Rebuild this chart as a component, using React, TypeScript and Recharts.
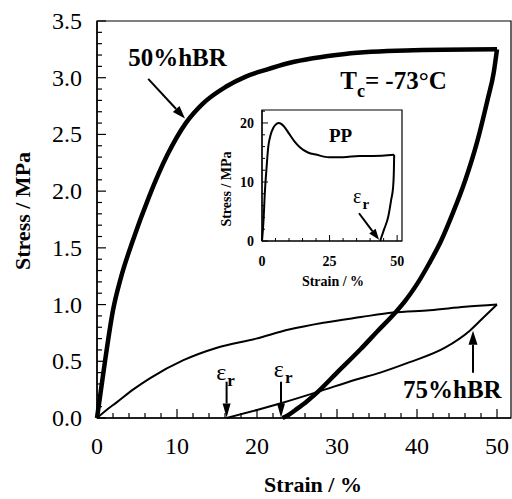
import React from "react";
import {
  Label,
  Line,
  LineChart,
  ReferenceArea,
  ReferenceDot,
  ReferenceLine,
  XAxis,
  YAxis,
} from "recharts";

const SERIF = '"Liberation Serif", "Times New Roman", Times, serif';

type Pt = { x: number; y: number };

// main chart: 50% hBR (thick) and 75% hBR (thin) loops, strain % vs stress MPa
const HBR50_LOAD: Pt[] = [
  { x: 0, y: 0 },
  { x: 0.5, y: 0.25 },
  { x: 1.0, y: 0.5 },
  { x: 2.0, y: 0.95 },
  { x: 3.0, y: 1.24 },
  { x: 4.46, y: 1.56 },
  { x: 6.5, y: 1.95 },
  { x: 8.8, y: 2.32 },
  { x: 11.1, y: 2.6 },
  { x: 13.2, y: 2.77 },
  { x: 16.1, y: 2.92 },
  { x: 18.6, y: 3.01 },
  { x: 21.1, y: 3.07 },
  { x: 24, y: 3.13 },
  { x: 31, y: 3.21 },
  { x: 38.6, y: 3.24 },
  { x: 50, y: 3.25 },
];

const HBR50_UNLOAD: Pt[] = [
  { x: 23.2, y: 0 },
  { x: 24, y: 0.03 },
  { x: 25, y: 0.08 },
  { x: 26.3, y: 0.15 },
  { x: 27.6, y: 0.23 },
  { x: 30, y: 0.4 },
  { x: 33, y: 0.61 },
  { x: 35, y: 0.76 },
  { x: 37.3, y: 0.93 },
  { x: 38.5, y: 1.03 },
  { x: 40, y: 1.18 },
  { x: 41.5, y: 1.36 },
  { x: 43, y: 1.56 },
  { x: 44.5, y: 1.81 },
  { x: 46, y: 2.09 },
  { x: 47.5, y: 2.43 },
  { x: 48.8, y: 2.8 },
  { x: 49.6, y: 3.05 },
  { x: 50, y: 3.25 },
];

const HBR75_LOAD: Pt[] = [
  { x: 0, y: 0 },
  { x: 1, y: 0.06 },
  { x: 2.5, y: 0.14 },
  { x: 4.5, y: 0.25 },
  { x: 6.6, y: 0.35 },
  { x: 10.8, y: 0.51 },
  { x: 15, y: 0.62 },
  { x: 19.9, y: 0.7 },
  { x: 24, y: 0.78 },
  { x: 28.3, y: 0.84 },
  { x: 33, y: 0.89 },
  { x: 37, y: 0.93 },
  { x: 41.6, y: 0.95 },
  { x: 46, y: 0.98 },
  { x: 50, y: 1.0 },
];

const HBR75_UNLOAD: Pt[] = [
  { x: 16.2, y: 0 },
  { x: 20, y: 0.07 },
  { x: 23, y: 0.13 },
  { x: 27.6, y: 0.23 },
  { x: 32.4, y: 0.34 },
  { x: 35.4, y: 0.4 },
  { x: 39, y: 0.49 },
  { x: 43.5, y: 0.62 },
  { x: 46.6, y: 0.77 },
  { x: 48.5, y: 0.9 },
  { x: 50, y: 1.0 },
];

// inset: PP
const PP_LOAD: Pt[] = [
  { x: 0, y: 0 },
  { x: 0.5, y: 3 },
  { x: 1.1, y: 8.6 },
  { x: 1.7, y: 12.5 },
  { x: 2.3, y: 15.9 },
  { x: 3.2, y: 18 },
  { x: 4.2, y: 19.2 },
  { x: 5.2, y: 19.8 },
  { x: 6.3, y: 20 },
  { x: 8, y: 19.5 },
  { x: 10, y: 18.2 },
  { x: 12, y: 16.9 },
  { x: 14, y: 15.9 },
  { x: 17, y: 15 },
  { x: 20.3, y: 14.6 },
  { x: 24.8, y: 14.2 },
  { x: 30, y: 14.2 },
  { x: 36, y: 14.4 },
  { x: 41, y: 14.4 },
  { x: 48.9, y: 14.6 },
];

const PP_UNLOAD: Pt[] = [
  { x: 43.7, y: 0 },
  { x: 45.2, y: 2 },
  { x: 46.7, y: 4.1 },
  { x: 47.8, y: 7 },
  { x: 48.5, y: 9.1 },
  { x: 48.8, y: 12 },
  { x: 48.9, y: 14.6 },
];

const X_TICKS = [
  0, 2, 4, 6, 8, 10, 12, 14, 16, 18, 20, 22, 24, 26, 28, 30, 32, 34, 36, 38,
  40, 42, 44, 46, 48, 50,
];
const Y_TICKS = [
  0, 0.1, 0.2, 0.3, 0.4, 0.5, 0.6, 0.7, 0.8, 0.9, 1.0, 1.1, 1.2, 1.3, 1.4,
  1.5, 1.6, 1.7, 1.8, 1.9, 2.0, 2.1, 2.2, 2.3, 2.4, 2.5, 2.6, 2.7, 2.8, 2.9,
  3.0, 3.1, 3.2, 3.3, 3.4, 3.5,
];
const INSET_X_TICKS = [0, 5, 10, 15, 20, 25, 30, 35, 40, 45, 50];
const INSET_Y_TICKS = [0, 2, 4, 6, 8, 10, 12, 14, 16, 18, 20, 22];

const X_MAX = 51.75;
const Y_MAX = 3.5;
const INSET_X_MAX = 51.8;
const INSET_Y_MAX = 22.2;

function isHalf(v: number) {
  return Math.abs(v * 2 - Math.round(v * 2)) < 1e-6;
}

function MainXTick(props: any) {
  const { x, y, payload } = props;
  const v = payload.value;
  const major = v % 10 === 0;
  return (
    <g>
      <line x1={x} y1={y} x2={x} y2={y - (major ? 9 : 5)} stroke="#000" strokeWidth={1.2} />
      {major && (
        <text x={x} y={y + 36} textAnchor="middle" fontSize={24} fontFamily={SERIF} fill="#000">
          {v}
        </text>
      )}
    </g>
  );
}

function MainYTick(props: any) {
  const { x, y, payload } = props;
  const v = payload.value;
  const major = isHalf(v);
  return (
    <g>
      <line x1={x} y1={y} x2={x + (major ? 9 : 5)} y2={y} stroke="#000" strokeWidth={1.2} />
      {major && (
        <text x={x - 15} y={y + 8} textAnchor="end" fontSize={24} fontFamily={SERIF} fill="#000">
          {v.toFixed(1)}
        </text>
      )}
    </g>
  );
}

function InsetXTick(props: any) {
  const { x, y, payload } = props;
  const v = payload.value;
  const major = v % 25 === 0;
  return (
    <g>
      <line x1={x} y1={y} x2={x} y2={y - (major ? 6 : 3)} stroke="#000" strokeWidth={1} />
      {major && (
        <text x={x} y={y + 25} textAnchor="middle" fontSize={14} fontWeight="bold" fontFamily={SERIF} fill="#000">
          {v}
        </text>
      )}
    </g>
  );
}

function InsetYTick(props: any) {
  const { x, y, payload } = props;
  const v = payload.value;
  const major = v % 10 === 0;
  return (
    <g>
      <line x1={x} y1={y} x2={x + (major ? 6 : 3)} y2={y} stroke="#000" strokeWidth={1} />
      {major && (
        <text x={x - 8} y={y + 5} textAnchor="end" fontSize={14} fontWeight="bold" fontFamily={SERIF} fill="#000">
          {v}
        </text>
      )}
    </g>
  );
}

function arrow(head: number, width: number, stroke: number) {
  return (p: any) => {
    const { x1, y1, x2, y2 } = p;
    const a = Math.atan2(y2 - y1, x2 - x1);
    const bx = x2 - head * Math.cos(a);
    const by = y2 - head * Math.sin(a);
    const nx = (-Math.sin(a) * width) / 2;
    const ny = (Math.cos(a) * width) / 2;
    return (
      <g>
        <line x1={x1} y1={y1} x2={bx} y2={by} stroke="#000" strokeWidth={stroke} />
        <polygon points={`${x2},${y2} ${bx + nx},${by + ny} ${bx - nx},${by - ny}`} fill="#000" />
      </g>
    );
  };
}

function textAt(content: React.ReactNode, size: number, weight = "bold") {
  return (p: any) => (
    <text x={p.cx} y={p.cy} fontSize={size} fontWeight={weight} fontFamily={SERIF} fill="#000">
      {content}
    </text>
  );
}

const epsR = (sub: number) => (
  <>
    <tspan fontWeight="normal">ε</tspan>
    <tspan fontSize={sub} dy={6} dx={1}>
      r
    </tspan>
  </>
);

function InsetChart() {
  return (
    <LineChart width={205} height={190} margin={{ top: 5, right: 8, left: 0, bottom: 0 }}>
      <XAxis
        type="number"
        dataKey="x"
        domain={[0, INSET_X_MAX]}
        ticks={INSET_X_TICKS}
        interval={0}
        tickLine={false}
        tickSize={0}
        tickMargin={0}
        height={54}
        axisLine={{ stroke: "#000", strokeWidth: 1.2 }}
        tick={(p: any) => <InsetXTick {...p} />}
      >
        <Label
          content={(p: any) => (
            <text
              x={p.viewBox.x + 71}
              y={p.viewBox.y + 45}
              textAnchor="middle"
              fontSize={14}
              fontWeight="bold"
              fontFamily={SERIF}
              fill="#000"
            >
              Strain / %
            </text>
          )}
        />
      </XAxis>
      <YAxis
        type="number"
        domain={[0, INSET_Y_MAX]}
        ticks={INSET_Y_TICKS}
        interval={0}
        tickLine={false}
        tickSize={0}
        tickMargin={0}
        width={57}
        axisLine={{ stroke: "#000", strokeWidth: 1.2 }}
        tick={(p: any) => <InsetYTick {...p} />}
      >
        <Label
          content={(p: any) => (
            <text
              x={p.viewBox.x + 26}
              y={84}
              transform={`rotate(-90 ${p.viewBox.x + 26} 84)`}
              textAnchor="middle"
              fontSize={14}
              fontWeight="bold"
              fontFamily={SERIF}
              fill="#000"
            >
              {"Stress / MPa"}
            </text>
          )}
        />
      </YAxis>
      <ReferenceArea
        x1={0}
        x2={INSET_X_MAX}
        y1={0}
        y2={INSET_Y_MAX}
        fill="#fff"
        fillOpacity={1}
        stroke="#000"
        strokeWidth={1.2}
      />
      <Line data={PP_LOAD} dataKey="y" type="monotone" stroke="#000" strokeWidth={2} dot={false} isAnimationActive={false} />
      <Line data={PP_UNLOAD} dataKey="y" type="monotone" stroke="#000" strokeWidth={2} dot={false} isAnimationActive={false} />
      <ReferenceDot x={24.8} y={16.8} r={0} shape={textAt("PP", 19)} />
      <ReferenceDot x={33.7} y={6.4} r={0} shape={textAt(epsR(15), 20)} />
      <ReferenceLine
        segment={[
          { x: 35.9, y: 4.7 },
          { x: 43.3, y: 0.2 },
        ]}
        shape={arrow(11, 8, 2)}
      />
    </LineChart>
  );
}

export default function App() {
  return (
    <div style={{ position: "absolute", left: 0, top: 0, width: 512, height: 499, background: "#fff" }}>
      <LineChart width={512} height={499} margin={{ top: 21, right: 1, left: 0, bottom: 0 }}>
        <XAxis
          type="number"
          dataKey="x"
          domain={[0, X_MAX]}
          ticks={X_TICKS}
          interval={0}
          tickLine={false}
          tickSize={0}
          tickMargin={0}
          height={81}
          axisLine={{ stroke: "#000", strokeWidth: 1.5 }}
          tick={(p: any) => <MainXTick {...p} />}
        >
          <Label
            content={(p: any) => (
              <text
                x={313}
                y={p.viewBox.y + 74}
                textAnchor="middle"
                fontSize={22}
                fontWeight="bold"
                fontFamily={SERIF}
                fill="#000"
              >
                Strain / %
              </text>
            )}
          />
        </XAxis>
        <YAxis
          type="number"
          domain={[0, Y_MAX]}
          ticks={Y_TICKS}
          interval={0}
          tickLine={false}
          tickSize={0}
          tickMargin={0}
          width={97}
          axisLine={{ stroke: "#000", strokeWidth: 1.5 }}
          tick={(p: any) => <MainYTick {...p} />}
        >
          <Label
            content={(p: any) => (
              <text
                x={p.viewBox.x + 30}
                y={211}
                transform={`rotate(-90 ${p.viewBox.x + 30} 211)`}
                textAnchor="middle"
                fontSize={22}
                fontWeight="bold"
                fontFamily={SERIF}
                fill="#000"
              >
                {"Stress / MPa"}
              </text>
            )}
          />
        </YAxis>
        <ReferenceArea x1={0} x2={X_MAX} y1={0} y2={Y_MAX} fill="none" stroke="#000" strokeWidth={1.2} />
        <Line data={HBR75_LOAD} dataKey="y" type="monotone" stroke="#000" strokeWidth={2} dot={false} isAnimationActive={false} />
        <Line data={HBR75_UNLOAD} dataKey="y" type="monotone" stroke="#000" strokeWidth={2} dot={false} isAnimationActive={false} />
        <Line data={HBR50_LOAD} dataKey="y" type="monotone" stroke="#000" strokeWidth={4.5} dot={false} isAnimationActive={false} />
        <Line data={HBR50_UNLOAD} dataKey="y" type="monotone" stroke="#000" strokeWidth={4.5} dot={false} isAnimationActive={false} />

        <ReferenceDot x={3.9} y={3.1} r={0} shape={textAt("50%hBR", 25)} />
        <ReferenceLine
          segment={[
            { x: 6.4, y: 2.99 },
            { x: 11.0, y: 2.64 },
          ]}
          shape={arrow(13, 9, 2)}
        />
        <ReferenceDot
          x={30.4}
          y={2.9}
          r={0}
          shape={textAt(
            <>
              T
              <tspan fontSize={18} dy={8}>
                c
              </tspan>
              <tspan dy={-8}>= -73°C</tspan>
            </>,
            25
          )}
        />
        <ReferenceDot x={38.25} y={0.176} r={0} shape={textAt("75%hBR", 25)} />
        <ReferenceLine
          segment={[
            { x: 47, y: 0.4 },
            { x: 47, y: 0.77 },
          ]}
          shape={arrow(14, 9, 2)}
        />
        <ReferenceDot x={14.9} y={0.335} r={0} shape={textAt(epsR(17), 24)} />
        <ReferenceLine
          segment={[
            { x: 16.2, y: 0.32 },
            { x: 16.2, y: 0.005 },
          ]}
          shape={arrow(14, 8, 2)}
        />
        <ReferenceDot x={22.1} y={0.36} r={0} shape={textAt(epsR(17), 24)} />
        <ReferenceLine
          segment={[
            { x: 23.0, y: 0.32 },
            { x: 23.0, y: 0.005 },
          ]}
          shape={arrow(14, 8, 2)}
        />
      </LineChart>
      <div style={{ position: "absolute", left: 205, top: 105 }}>
        <InsetChart />
      </div>
    </div>
  );
}
